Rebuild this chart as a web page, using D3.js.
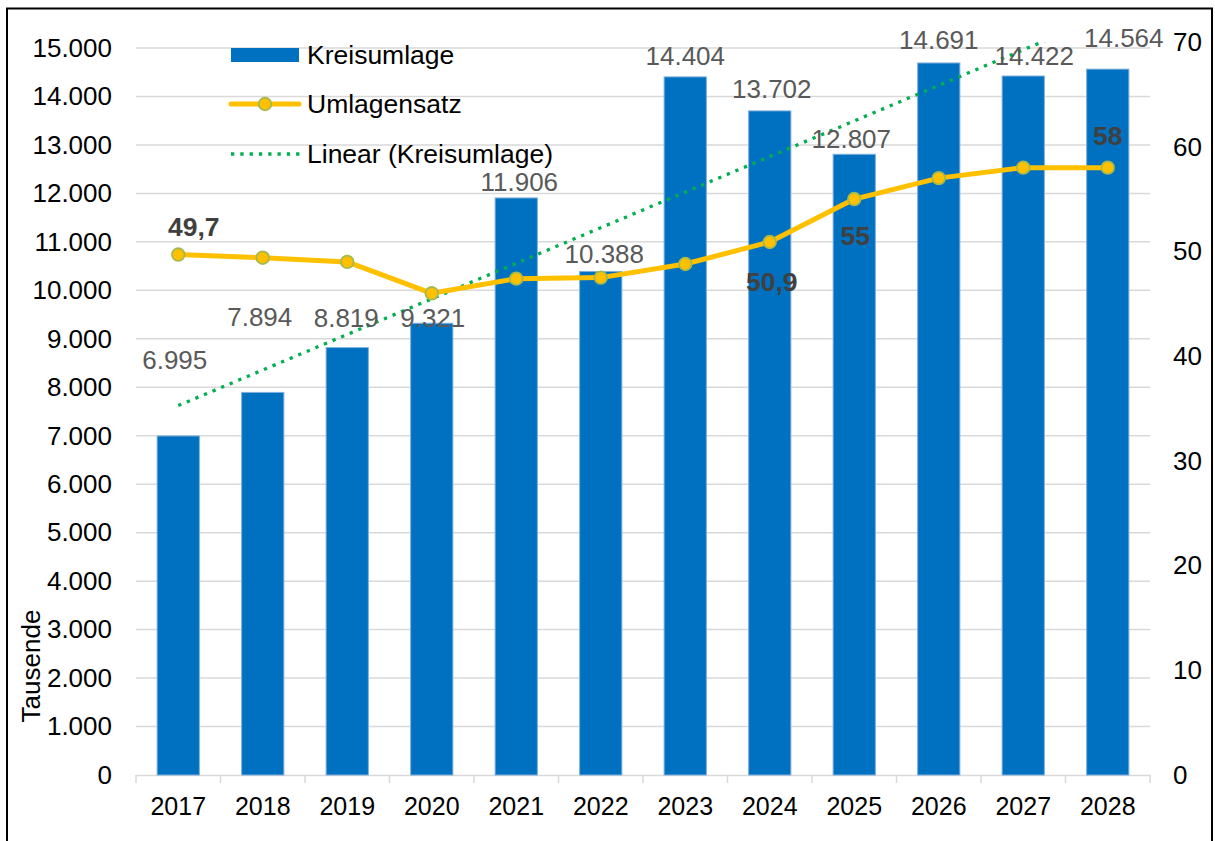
<!DOCTYPE html>
<html>
<head>
<meta charset="utf-8">
<script src="https://cdn.jsdelivr.net/npm/d3@7"></script>
<style>
  body { margin: 0; background: #fff; }
  svg { font-family: "Liberation Sans", Arial, sans-serif; }
</style>
</head>
<body>
<div id="chart-area"></div>
<script>
// Daten
const years = ["2017", "2018", "2019", "2020", "2021", "2022", "2023", "2024", "2025", "2026", "2027", "2028"];
const kreisumlage = [6995, 7894, 8819, 9321, 11906, 10388, 14404, 13702, 12807, 14691, 14422, 14564];
const umlagensatz = [49.7, 49.4, 49.0, 46.0, 47.4, 47.5, 48.8, 50.9, 55, 57, 58, 58];
const leftTicks = [0, 1000, 2000, 3000, 4000, 5000, 6000, 7000, 8000, 9000, 10000, 11000, 12000, 13000, 14000, 15000];
const rightTicks = [0, 10, 20, 30, 40, 50, 60, 70];
// Beschriftungen (manuell verschoben wie im Original): [dx, dy] zur Grundlinie
const barLabelOffsets = [[-3.5, -67], [-3, -66], [-1, -21], [1, 3.5], [3, -7], [3.5, -9], [0, -12], [2, -13], [-3, -6], [0, -14], [11, -11], [16, -22]];
const rateLabels = [{ i: 0, dx: 15.5, dy: -19 }, { i: 7, dx: 2, dy: 49 }, { i: 8, dx: 1, dy: 46 }, { i: 11, dx: 0, dy: -23 }];

const width = 1215, height = 841;
const x0 = 136, x1 = 1150, yBottom = 775, yTop = 42;

const svg = d3.select("#chart-area").append("svg")
  .attr("width", width).attr("height", height);

const x = d3.scaleBand().domain(years).range([x0, x1]).paddingInner(0.5).paddingOuter(0.25);
const xb = d3.scaleBand().domain(years).range([x0, x1]);
const y = d3.scaleLinear().domain([0, 15000]).range([yBottom, 48]);
const y2 = d3.scaleLinear().domain([0, 70]).range([yBottom, yTop]);
const fmt = d3.formatLocale({ decimal: ",", thousands: ".", grouping: [3], currency: ["", "€"] });
const f0 = fmt.format(",d");
const f1 = fmt.format(",");

// Rahmen
svg.append("rect").attr("x", 7).attr("y", 8.5).attr("width", 1205).attr("height", 900)
  .attr("fill", "none").attr("stroke", "#000").attr("stroke-width", 2);

// Gitterlinien
svg.append("g").selectAll("line").data(leftTicks.slice(1)).join("line")
  .attr("x1", x0).attr("x2", x1).attr("y1", d => y(d)).attr("y2", d => y(d))
  .attr("stroke", "#d9d9d9").attr("stroke-width", 1.5);

// Linke Achse
const leftAxis = svg.append("g").attr("transform", `translate(${x0},0)`)
  .call(d3.axisLeft(y).tickValues(leftTicks).tickFormat(f0).tickSize(0).tickPadding(24));
leftAxis.select(".domain").remove();
leftAxis.selectAll("text").attr("font-size", 26).attr("fill", "#000").attr("font-family", "Liberation Sans, Arial, sans-serif");

// Rechte Achse
const rightAxis = svg.append("g").attr("transform", `translate(${x1},0)`)
  .call(d3.axisRight(y2).tickValues(rightTicks).tickSize(0).tickPadding(23));
rightAxis.select(".domain").remove();
rightAxis.selectAll("text").attr("font-size", 26).attr("fill", "#000").attr("font-family", "Liberation Sans, Arial, sans-serif");

// Untere Achse
const bottomAxis = svg.append("g").attr("transform", `translate(0,${yBottom})`)
  .call(d3.axisBottom(xb).tickSize(0).tickPadding(22));
bottomAxis.select(".domain").attr("stroke", "#d9d9d9").attr("stroke-width", 1.5);
bottomAxis.selectAll("text").attr("font-size", 25).attr("fill", "#000").attr("font-family", "Liberation Sans, Arial, sans-serif");
svg.append("g").selectAll("line").data(d3.range(years.length + 1)).join("line")
  .attr("x1", i => x0 + i * xb.step()).attr("x2", i => x0 + i * xb.step())
  .attr("y1", yBottom).attr("y2", yBottom + 8)
  .attr("stroke", "#d9d9d9").attr("stroke-width", 1.5);

// Achsentitel
svg.append("text").attr("transform", `translate(40,${666}) rotate(-90)`)
  .attr("text-anchor", "middle").attr("font-size", 26).attr("fill", "#000").text("Tausende");

// Balken
svg.append("g").selectAll("rect").data(kreisumlage).join("rect")
  .attr("x", (d, i) => x(years[i])).attr("width", x.bandwidth())
  .attr("y", d => y(d)).attr("height", d => yBottom - y(d))
  .attr("fill", "#0070C0").attr("stroke", "#7fb0dc").attr("stroke-width", 1);

// Trendlinie (lineare Regression der Kreisumlage)
const n = kreisumlage.length;
const xs = d3.range(1, n + 1);
const mx = d3.mean(xs), my = d3.mean(kreisumlage);
const slope = d3.sum(xs, (v, i) => (v - mx) * (kreisumlage[i] - my)) / d3.sum(xs, v => (v - mx) ** 2);
const icpt = my - slope * mx;
svg.append("clipPath").attr("id", "plotclip").append("rect")
  .attr("x", x0).attr("y", yTop).attr("width", x1 - x0).attr("height", yBottom - yTop);
svg.append("line").attr("clip-path", "url(#plotclip)")
  .attr("x1", xb(years[0]) + xb.bandwidth() / 2).attr("y1", y(icpt + slope * 1))
  .attr("x2", xb(years[n - 1]) + xb.bandwidth() / 2).attr("y2", y(icpt + slope * n))
  .attr("stroke", "#00B050").attr("stroke-width", 3.3).attr("stroke-dasharray", "3.3 6");

// Balkenbeschriftungen
svg.append("g").selectAll("text").data(kreisumlage).join("text")
  .attr("x", (d, i) => x(years[i]) + x.bandwidth() / 2 + barLabelOffsets[i][0])
  .attr("y", (d, i) => y(d) + barLabelOffsets[i][1])
  .attr("text-anchor", "middle").attr("font-size", 26).attr("fill", "#595959")
  .text(d => f0(d));

// Umlagensatz Linie
const line = d3.line().x((d, i) => xb(years[i]) + xb.bandwidth() / 2).y(d => y2(d));
svg.append("path").datum(umlagensatz).attr("d", line)
  .attr("fill", "none").attr("stroke", "#FFC000").attr("stroke-width", 5).attr("stroke-linejoin", "round");
svg.append("g").selectAll("circle").data(umlagensatz).join("circle")
  .attr("cx", (d, i) => xb(years[i]) + xb.bandwidth() / 2).attr("cy", d => y2(d))
  .attr("r", 6.3).attr("fill", "#FFC000").attr("stroke", "#A5B94F").attr("stroke-width", 1.8);

// Beschriftungen Umlagensatz
svg.append("g").selectAll("text").data(rateLabels).join("text")
  .attr("x", d => xb(years[d.i]) + xb.bandwidth() / 2 + d.dx)
  .attr("y", d => y2(umlagensatz[d.i]) + d.dy)
  .attr("text-anchor", "middle").attr("font-size", 26.5).attr("font-weight", "bold").attr("fill", "#404040")
  .text(d => f1(umlagensatz[d.i]));

// Legende
const lg = svg.append("g").attr("font-size", 26.5).attr("fill", "#000");
lg.append("rect").attr("x", 231).attr("y", 48).attr("width", 68).attr("height", 14).attr("fill", "#0070C0");
lg.append("text").attr("x", 307).attr("y", 64).text("Kreisumlage");
lg.append("line").attr("x1", 231).attr("x2", 299).attr("y1", 104).attr("y2", 104)
  .attr("stroke", "#FFC000").attr("stroke-width", 5).attr("stroke-linecap", "round");
lg.append("circle").attr("cx", 265).attr("cy", 104).attr("r", 6.3)
  .attr("fill", "#FFC000").attr("stroke", "#A5B94F").attr("stroke-width", 1.8);
lg.append("text").attr("x", 307).attr("y", 113).text("Umlagensatz");
lg.append("line").attr("x1", 231).attr("x2", 301).attr("y1", 154).attr("y2", 154)
  .attr("stroke", "#00B050").attr("stroke-width", 3.3).attr("stroke-dasharray", "3.3 6");
lg.append("text").attr("x", 307).attr("y", 163).text("Linear (Kreisumlage)");
</script>
</body>
</html>
